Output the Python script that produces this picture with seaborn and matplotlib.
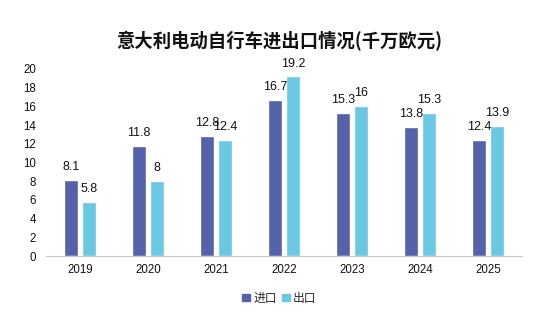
import matplotlib
matplotlib.use("Agg")
import matplotlib.pyplot as plt
import seaborn as sns
import pandas as pd

years = ["2019", "2020", "2021", "2022", "2023", "2024", "2025"]
imports = [8.1, 11.8, 12.8, 16.7, 15.3, 13.8, 12.4]
exports = [5.8, 8, 12.4, 19.2, 16, 15.3, 13.9]
series = ["进口", "出口"]
colors = ["#5561A8", "#6AC8E3"]

df = pd.DataFrame({
    "year": years * 2,
    "value": imports + exports,
    "type": [series[0]] * len(years) + [series[1]] * len(years),
})

sns.set_theme(style="white")
plt.rcParams["font.family"] = ["Noto Sans CJK SC", "DejaVu Sans"]
num_font = ["Liberation Sans", "DejaVu Sans"]

fig = plt.figure(figsize=(5.59, 3.27), dpi=100)
ax = fig.add_axes([0.082, 0.217, 0.852, 0.572])

sns.barplot(data=df, x="year", y="value", hue="type", palette=colors,
            saturation=1, width=0.52, gap=0.2, ax=ax, legend=False)

for cont in ax.containers:
    ax.bar_label(cont, labels=[f"{v:g}" for v in cont.datavalues],
                 padding=5, fontsize=9, color="#111111", fontfamily=num_font)

ax.set_ylim(0, 20)
ax.set_yticks(range(0, 21, 2))
ax.set_xlim(-0.5, 6.5)
ax.set_xlabel("")
ax.set_ylabel("")
for s in ["top", "right", "left"]:
    ax.spines[s].set_visible(False)
ax.spines["bottom"].set_color("#C8C8C8")
ax.spines["bottom"].set_linewidth(0.8)
ax.tick_params(axis="x", length=0, labelsize=8.3, colors="#111111", pad=6)
ax.tick_params(axis="y", length=0, labelsize=8.3, colors="#111111", pad=7)
for lab in ax.get_xticklabels() + ax.get_yticklabels():
    lab.set_fontfamily(num_font)

fig.suptitle("意大利电动自行车进出口情况(千万欧元)", x=0.5, y=0.905,
             fontsize=13.2, fontweight="bold", color="#111111")

handles = [plt.Rectangle((0, 0), 1, 1, color=c) for c in colors]
fig.legend(handles, series, loc="center", bbox_to_anchor=(0.5, 0.088),
           ncol=2, frameon=False, fontsize=8.5, handlelength=0.6,
           handleheight=0.6, handletextpad=0.3, columnspacing=0.5)

fig.savefig("out.png", dpi=100)
